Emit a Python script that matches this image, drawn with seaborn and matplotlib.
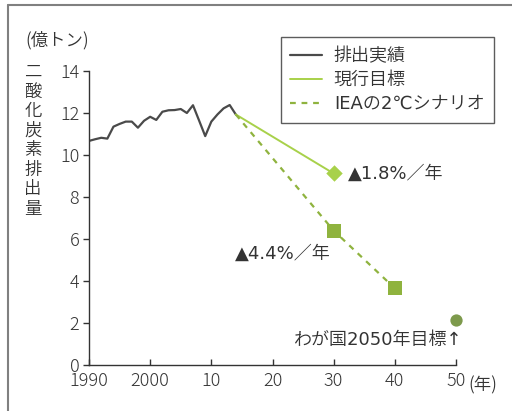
import matplotlib
matplotlib.use("Agg")
import matplotlib.pyplot as plt
import seaborn as sns
import pandas as pd
from matplotlib.lines import Line2D

# ---- data ----
actual_years = list(range(1990, 2015))
actual_values = [10.67, 10.75, 10.82, 10.78, 11.35, 11.48, 11.59, 11.59, 11.30, 11.63,
                 11.82, 11.67, 12.06, 12.13, 12.14, 12.19, 12.00, 12.37, 11.64, 10.90,
                 11.59, 11.93, 12.22, 12.38, 11.93]
target_years = [2014, 2030]
target_values = [11.93, 9.12]
iea_years = [2014, 2030, 2040]
iea_values = [11.93, 6.40, 3.65]
goal_year = [2050]
goal_value = [2.14]
legend_labels = ["排出実績", "現行目標", "IEAの2℃シナリオ"]
x_ticks = [1990, 2000, 2010, 2020, 2030, 2040, 2050]
x_ticklabels = ["1990", "2000", "10", "20", "30", "40", "50"]
y_ticks = [0, 2, 4, 6, 8, 10, 12, 14]
ylabel_chars = list("二酸化炭素排出量")

sns.set_theme(style="ticks")
FAM = ["Noto Sans CJK JP", "DejaVu Sans"]
FAM_W = ["DejaVu Sans", "Noto Sans CJK JP"]
plt.rcParams["font.family"] = FAM
plt.rcParams["font.weight"] = "light"
WT = 350

C_ACT = "#4a4a4a"
C_TGT = "#a8d14a"
C_IEA = "#8fb33e"
C_GOAL = "#7d9a4c"
TXT = "#333333"

fig = plt.figure(figsize=(5.12, 4.11), dpi=100)
W, H = 512, 411
ax = fig.add_axes([89 / W, 1 - 365 / H, (456 - 89) / W, (365 - 71) / H])

df_act = pd.DataFrame({"year": actual_years, "v": actual_values})
df_tgt = pd.DataFrame({"year": target_years, "v": target_values})
df_iea = pd.DataFrame({"year": iea_years, "v": iea_values})

sns.lineplot(data=df_act, x="year", y="v", ax=ax, color=C_ACT, lw=1.6)
sns.lineplot(data=df_tgt, x="year", y="v", ax=ax, color=C_TGT, lw=1.4)
ax.plot(iea_years, iea_values, color=C_IEA, lw=1.6, dashes=(2.6, 2.6))

ax.scatter(target_years[1:], target_values[1:], marker="D", s=70, color=C_TGT, zorder=5, linewidths=0)
ax.scatter(iea_years[1:], iea_values[1:], marker="s", s=92, color=C_IEA, zorder=5, linewidths=0)
ax.scatter(goal_year, goal_value, marker="o", s=78, color=C_GOAL, zorder=5, linewidths=0, clip_on=False)

ax.set_xlim(1990, 2050)
ax.set_ylim(0, 14)
ax.set_xticks(x_ticks)
ax.set_xticklabels(x_ticklabels)
ax.set_yticks(y_ticks)
ax.set_xlabel("")
ax.set_ylabel("")
sns.despine(ax=ax)
for s in ["left", "bottom"]:
    ax.spines[s].set_color("#333333")
    ax.spines[s].set_linewidth(1.0)
ax.tick_params(axis="x", direction="in", length=4, width=1.0, color="#333333",
               labelsize=13, labelcolor=TXT, pad=5)
ax.tick_params(axis="y", direction="out", length=4, width=1.0, color="#333333",
               labelsize=13, labelcolor=TXT, pad=3)
for lab in ax.get_xticklabels() + ax.get_yticklabels():
    lab.set_fontweight("light")

# annotations
ax.text(2032.3, 9.12, "▲1.8%／年", fontsize=13, color=TXT, va="center", ha="left",
        family=FAM_W, fontweight=WT)
ax.text(2013.9, 5.3, "▲4.4%／年", fontsize=13, color=TXT, va="center", ha="left",
        family=FAM_W, fontweight=WT)
ax.text(2051.1, 1.20, "わが国2050年目標↑", fontsize=13, color=TXT, va="center", ha="right",
        family=FAM_W, fontweight=WT)

# units
fig.text(25 / W, 1 - 40 / H, "(億トン)", fontsize=12.5, color=TXT, va="center", ha="left",
         family=FAM, fontweight=WT)
fig.text(468 / W, 1 - 385 / H, "(年)", fontsize=12.5, color=TXT, va="center", ha="left",
         family=FAM, fontweight=WT)
for i, ch in enumerate(ylabel_chars):
    fig.text(33 / W, 1 - (72 + i * 19.5) / H, ch, fontsize=12.5, color=TXT,
             va="center", ha="center", family=FAM, fontweight=WT)

# legend
handles = [Line2D([], [], color=C_ACT, lw=1.6),
           Line2D([], [], color=C_TGT, lw=1.4),
           Line2D([], [], color=C_IEA, lw=1.6, dashes=(2.6, 2.6))]
leg = fig.legend(handles, legend_labels, loc="upper left",
                 bbox_to_anchor=(280.5 / W, 1 - 37 / H), frameon=True, fancybox=False,
                 prop={"family": FAM_W, "size": 13, "weight": WT},
                 handlelength=1.75, handletextpad=0.65, labelspacing=0.33,
                 borderpad=0.55, borderaxespad=0)
leg.get_frame().set_edgecolor("#333333")
leg.get_frame().set_linewidth(1.0)
for t in leg.get_texts():
    t.set_color(TXT)

# outer frame (top and left)
fig.add_artist(Line2D([8 / W, 8 / W], [0, 1 - 5 / H], color="#808080", lw=1.5,
                      transform=fig.transFigure))
fig.add_artist(Line2D([8 / W, 1], [1 - 5 / H, 1 - 5 / H], color="#808080", lw=1.5,
                      transform=fig.transFigure))

fig.savefig("out.png", dpi=100)
